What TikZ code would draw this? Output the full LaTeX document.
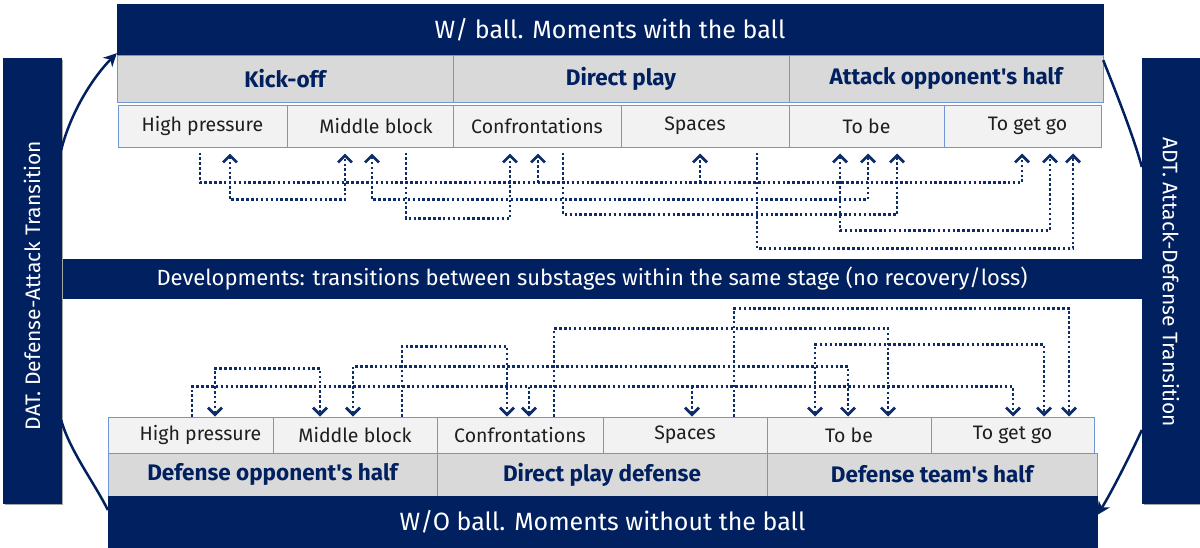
\documentclass[tikz,border=0pt]{standalone}
\usepackage{fontspec}
\setmainfont{Fira Sans}
\usetikzlibrary{arrows.meta,shadows}
\definecolor{navy}{HTML}{002060}
\definecolor{conncol}{HTML}{0E2C68}
\definecolor{cellborder}{HTML}{7096D9}
\definecolor{grayrow}{HTML}{D9D9D9}
\definecolor{lightrow}{HTML}{F2F2F2}
\definecolor{textcol}{HTML}{1E1E1E}
\begin{document}
\begin{tikzpicture}[x=1pt,y=-1pt,
  darkband/.style={fill=navy,draw=navy,text=white,inner sep=0pt,font=\fontsize{25}{29}\selectfont},
  midband/.style={fill=navy,draw=navy,text=white,inner sep=0pt,font=\fontsize{22}{26}\selectfont},
  sidebox/.style={fill=navy,draw=navy,text=white,inner sep=0pt,
    drop shadow={shadow xshift=2pt,shadow yshift=-2pt,fill=black!35,opacity=1}},
  sidetext/.style={text=white,font=\fontsize{21}{25}\selectfont},
  stagebox/.style={fill=grayrow,draw=cellborder,line width=1pt,text=navy,inner sep=0pt,font=\bfseries\fontsize{22.5}{26}\selectfont},
  subbox/.style={fill=lightrow,draw=cellborder,line width=1pt,text=textcol,inner sep=0pt,font=\fontsize{19.5}{23}\selectfont},
  tip/.tip={Straight Barb[length=7pt,width=14pt,line width=2.8pt]},
  conn/.style={draw=conncol,line width=2.7pt,dash pattern=on 2.5pt off 2.4pt,-tip},
  bconn/.style={draw=conncol,line width=2.7pt,dash pattern=on 2.5pt off 2.4pt,tip-tip},
  trans/.style={draw=navy,line width=2.5pt},
  transarr/.style={draw=navy,line width=2.5pt,-{Stealth[length=13pt,width=13pt,inset=4pt]}},
]
\useasboundingbox (0,0) rectangle (1200,547);

% top section
\node[darkband,minimum width=986pt,minimum height=51pt] (topband) at (610,29.5) {W/ ball. Moments with the ball};
\node[stagebox,minimum width=336pt,minimum height=47pt] (tko) at (285,78.5) {Kick-off};
\node[stagebox,minimum width=336pt,minimum height=47pt] (tdp) at (621,78.5) {Direct play};
\node[stagebox,minimum width=314pt,minimum height=47pt] (tao) at (946,78.5) {Attack opponent\textquotesingle s half};
\node[subbox,minimum width=169pt,minimum height=42pt] (thp) at (202.5,126) {High pressure};
\node[subbox,minimum width=166pt,minimum height=42pt] (tmb) at (370,126) {\hspace*{12pt}Middle block};
\node[subbox,minimum width=168pt,minimum height=42pt] (tcf) at (537,126) {Confrontations};
\node[subbox,minimum width=168pt,minimum height=42pt] (tsp) at (705,126) {Spaces\hspace*{20pt}};
\node[subbox,minimum width=155pt,minimum height=42pt] (ttb) at (866.5,126) {To be};
\node[subbox,minimum width=157pt,minimum height=42pt] (tgg) at (1022.5,126) {\hspace*{10pt}To get go};

% middle band
\node[midband,minimum width=1080pt,minimum height=39pt] (midband) at (602,278.5) {Developments: transitions between substages within the same stage (no recovery/loss)\hspace*{20pt}};

% side boxes
\node[sidebox,minimum width=58pt,minimum height=445pt] (dat) at (32,280.5) {};
\node[sidetext,rotate=90] (dattext) at ([yshift=-5pt]dat.center) {DAT. Defense-Attack Transition};
\node[sidebox,minimum width=58pt,minimum height=445pt] (adt) at (1171,280.5) {};
\node[sidetext,rotate=-90] (adttext) at ([yshift=-2pt]adt.center) {ADT. Attack-Defense Transition};

% bottom section
\node[subbox,minimum width=165pt,minimum height=36pt] (bhp) at (190.5,435) {\hspace*{20pt}High pressure};
\node[subbox,minimum width=164pt,minimum height=36pt] (bmb) at (355,435) {Middle block};
\node[subbox,minimum width=166pt,minimum height=36pt] (bcf) at (520,435) {\raisebox{-2pt}{Confrontations}};
\node[subbox,minimum width=164pt,minimum height=36pt] (bsp) at (685,435) {Spaces};
\node[subbox,minimum width=164pt,minimum height=36pt] (btb) at (849,435) {\raisebox{-2pt}{To be}};
\node[subbox,minimum width=163pt,minimum height=36pt] (bgg) at (1012.5,435) {\raisebox{-2pt}{To get go}};
\node[stagebox,minimum width=329pt,minimum height=43pt] (bdo) at (272.5,474.5) {Defense opponent\textquotesingle s half};
\node[stagebox,minimum width=330pt,minimum height=43pt] (bdp) at (602,474.5) {Direct play defense};
\node[stagebox,minimum width=330pt,minimum height=43pt] (bdt) at (932,474.5) {Defense team\textquotesingle s half};
\node[darkband,minimum width=989pt,minimum height=51pt] (botband) at (602.5,521.5) {W/O ball. Moments without the ball};

% transitions
\draw[transarr] ([yshift=130.5]dat.east) .. controls +(10,-40) and +(-22,22) .. ([yshift=2]topband.south west);
\draw[trans] ([yshift=11.5]botband.west) .. controls +(-12,-25) and +(8,30) .. ([yshift=-139.5]dat.east);
\draw[trans] ([yshift=-5]topband.south east) .. controls +(12,30) and +(-8,-30) .. ([yshift=113.5]adt.west);
\draw[transarr] ([yshift=-149.5]adt.west) .. controls +(-10,22) and +(14,-22) .. ([yshift=6.5]botband.east);

% top developments
\draw[conn] ([xshift=-2.5,yshift=-5]thp.south) -- ++(0,30) -| ([xshift=-0.5,yshift=-6]tgg.south);
\draw[conn] ([xshift=1,yshift=-35]tcf.south) -- ([xshift=1,yshift=-6]tcf.south);
\draw[conn] ([xshift=-5,yshift=-35]tsp.south) -- ([xshift=-5,yshift=-6]tsp.south);
\draw[bconn] ([xshift=27.5,yshift=-6]thp.south) -- ++(0,46) -| ([xshift=-25,yshift=-6]tmb.south);
\draw[bconn] ([xshift=2,yshift=-6]tmb.south) -- ++(0,46) -| ([xshift=1.5,yshift=-6]ttb.south);
\draw[conn] ([xshift=36,yshift=-5]tmb.south) -- ++(0,66) -| ([xshift=-27,yshift=-6]tcf.south);
\draw[conn] ([xshift=26,yshift=-5]tcf.south) -- ++(0,62) -| ([xshift=30.5,yshift=-6]ttb.south);
\draw[conn] ([xshift=52,yshift=-5]tsp.south) -- ++(0,96) -| ([xshift=50.5,yshift=-6]tgg.south);
\draw[bconn] ([xshift=-26.5,yshift=-6]ttb.south) -- ++(0,77) -| ([xshift=27.5,yshift=-6]tgg.south);

% bottom developments
\draw[conn] ([xshift=1.5]bhp.north) -- ++(0,-30) -| ([xshift=0.5]bgg.north);
\draw[conn] ([xshift=9,yshift=30]bcf.north) -- ([xshift=9]bcf.north);
\draw[conn] ([xshift=7,yshift=30]bsp.north) -- ([xshift=7]bsp.north);
\draw[bconn] ([xshift=24.5]bhp.north) -- ++(0,-48) -| ([xshift=-35]bmb.north);
\draw[bconn] ([xshift=-2]bmb.north) -- ++(0,-50) -| ([xshift=-1]btb.north);
\draw[conn] ([xshift=47]bmb.north) -- ++(0,-70) -| ([xshift=-13]bcf.north);
\draw[conn] ([xshift=34]bcf.north) -- ++(0,-88) -| ([xshift=39]btb.north);
\draw[conn] ([xshift=49]bsp.north) -- ++(0,-108) -| ([xshift=56.5]bgg.north);
\draw[bconn] ([xshift=-34]btb.north) -- ++(0,-72) -| ([xshift=31.5]bgg.north);
\end{tikzpicture}
\end{document}
